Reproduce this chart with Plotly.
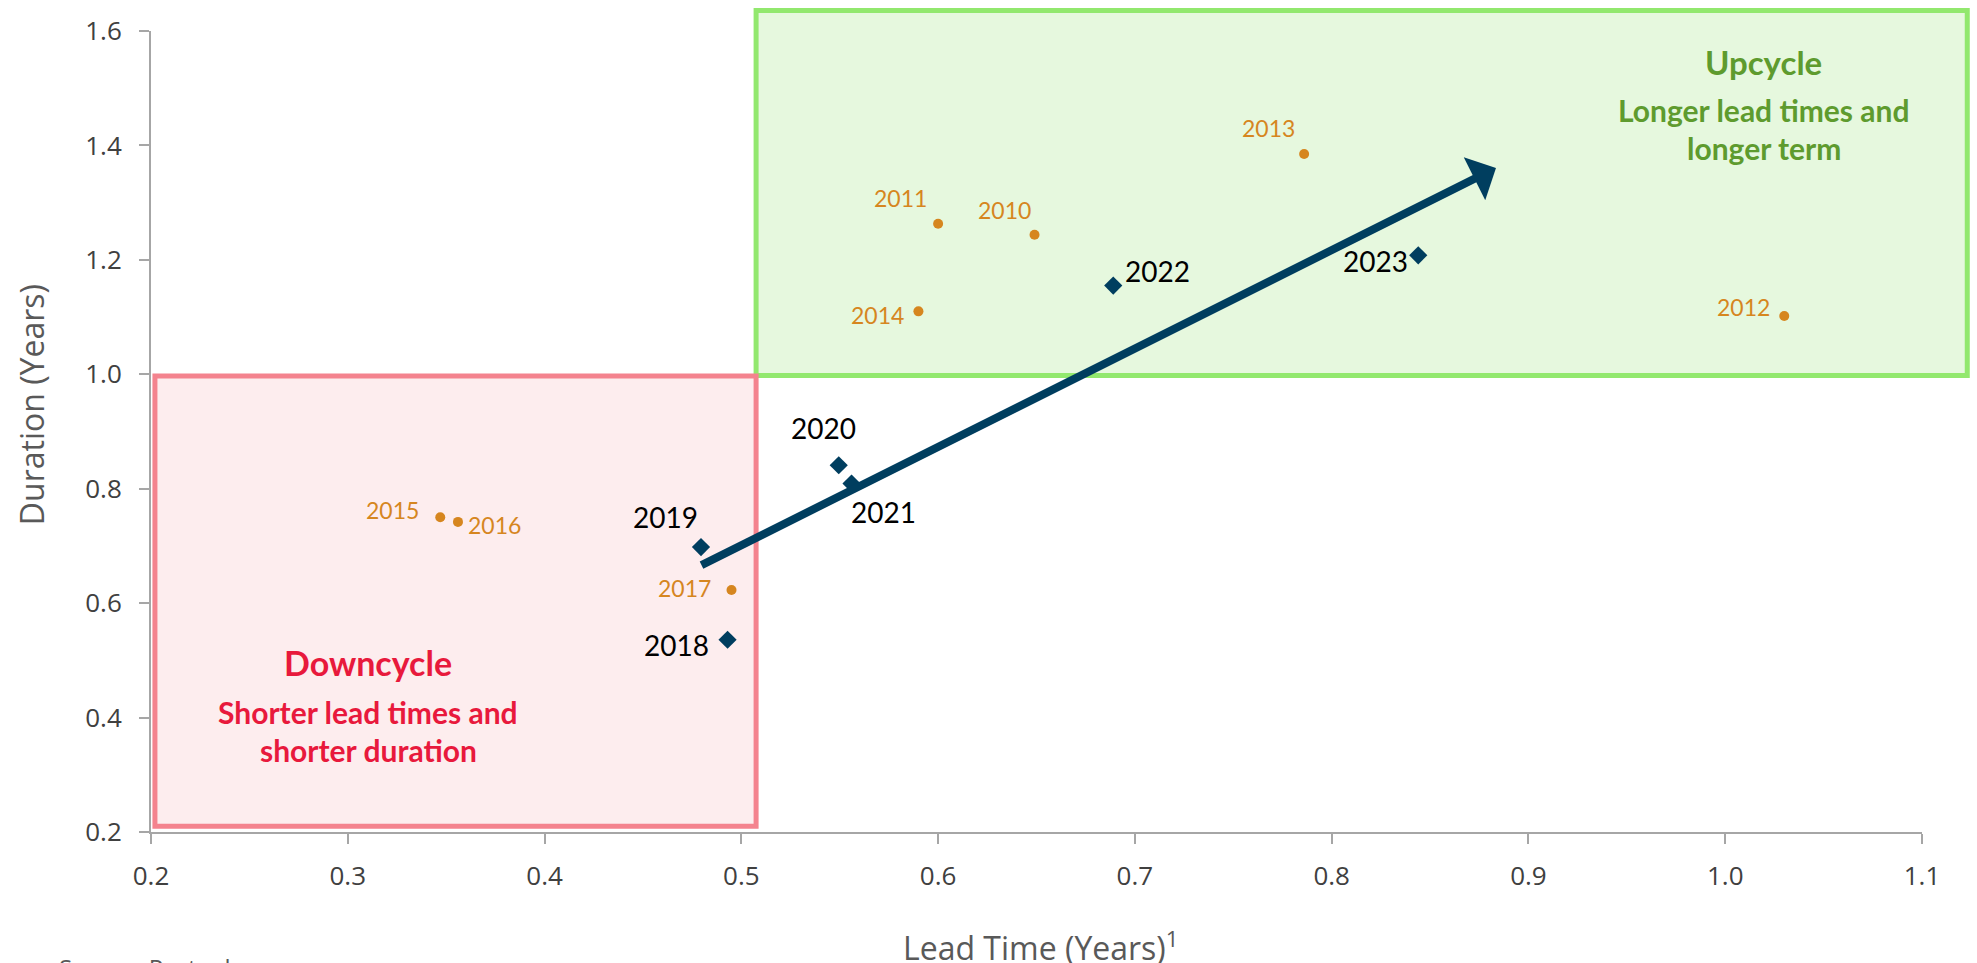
import plotly.graph_objects as go

# ---------------- data ----------------
hist_years = ["2010", "2011", "2012", "2013", "2014", "2015", "2016", "2017"]
hist_lead = [0.649, 0.600, 1.030, 0.786, 0.590, 0.347, 0.356, 0.495]
hist_dur = [1.244, 1.263, 1.102, 1.385, 1.110, 0.750, 0.742, 0.623]

recent_years = ["2018", "2019", "2020", "2021", "2022", "2023"]
recent_lead = [0.493, 0.4795, 0.5495, 0.556, 0.689, 0.844]
recent_dur = [0.536, 0.698, 0.841, 0.809, 1.155, 1.208]

x_tick_vals = [0.2, 0.3, 0.4, 0.5, 0.6, 0.7, 0.8, 0.9, 1.0, 1.1]
x_tick_text = ["0.2", "0.3", "0.4", "0.5", "0.6", "0.7", "0.8", "0.9", "1.0", "1.1"]
y_tick_vals = [0.2, 0.4, 0.6, 0.8, 1.0, 1.2, 1.4, 1.6]
y_tick_text = ["0.2", "0.4", "0.6", "0.8", "1.0", "1.2", "1.4", "1.6"]

# zones (lead time, duration)
down_zone_x = [0.202, 0.5075]
down_zone_y = [0.210, 0.997]
up_zone_x = [0.5075, 1.123]
up_zone_y = [0.998, 1.636]

# trend arrow (tail -> tip)
trend_x = [0.479, 0.8835]
trend_y = [0.665, 1.3606]

X_RANGE = [0.2, 1.1]
Y_RANGE = [0.2, 1.6]

# ---------------- styles ----------------
ORANGE = "#D6861F"
NAVY = "#003E5F"
RED_TXT = "#E8193C"
GREEN_TXT = "#5E9B2E"
AXIS_GREY = "#A6A6A6"
TICK_TXT = "#404040"
TITLE_TXT = "#595959"

# label offsets in pixels (dx right, dy down) for each year label
label_offsets = {
    "2010": (-30, -20), "2011": (-38, -21), "2012": (-41, -4), "2013": (-36, -21),
    "2014": (-41, 9), "2015": (-48, -2), "2016": (37, 8), "2017": (-47, 3),
    "2018": (-51, 10), "2019": (-35, -25), "2020": (-15, -32), "2021": (32, 33),
    "2022": (44, -10), "2023": (-43, 11),
}
TEXT_LIFT = 5  # px, compensates text box centre vs glyph centre


def paper_x(v):
    return (v - X_RANGE[0]) / (X_RANGE[1] - X_RANGE[0])


def paper_y(v):
    return (v - Y_RANGE[0]) / (Y_RANGE[1] - Y_RANGE[0])


fig = go.Figure()

fig.add_trace(go.Scatter(
    x=hist_lead, y=hist_dur, mode="markers",
    marker=dict(symbol="circle", size=10, color=ORANGE),
    hoverinfo="skip", showlegend=False,
))
fig.add_trace(go.Scatter(
    x=recent_lead, y=recent_dur, mode="markers",
    marker=dict(symbol="diamond", size=14, color=NAVY),
    hoverinfo="skip", showlegend=False,
))

shapes = [
    dict(type="rect", xref="paper", yref="paper", layer="below",
         x0=paper_x(up_zone_x[0]), x1=paper_x(up_zone_x[1]),
         y0=paper_y(up_zone_y[0]), y1=paper_y(up_zone_y[1]),
         fillcolor="#E6F8DE", line=dict(color="#92E86E", width=5)),
    dict(type="rect", xref="paper", yref="paper", layer="below",
         x0=paper_x(down_zone_x[0]), x1=paper_x(down_zone_x[1]),
         y0=paper_y(down_zone_y[0]), y1=paper_y(down_zone_y[1]),
         fillcolor="#FDEDEE", line=dict(color="#F4838E", width=5)),
]

annotations = []
for yr, lx, ly in zip(hist_years, hist_lead, hist_dur):
    dx, dy = label_offsets[yr]
    annotations.append(dict(x=lx, y=ly, xref="x", yref="y", text=yr, showarrow=False,
                            xanchor="center", yanchor="middle", xshift=dx,
                            yshift=-dy + TEXT_LIFT,
                            font=dict(family="Lato", size=23, color=ORANGE)))
for yr, lx, ly in zip(recent_years, recent_lead, recent_dur):
    dx, dy = label_offsets[yr]
    annotations.append(dict(x=lx, y=ly, xref="x", yref="y", text=yr, showarrow=False,
                            xanchor="center", yanchor="middle", xshift=dx,
                            yshift=-dy + TEXT_LIFT,
                            font=dict(family="Lato", size=28, color="#000000")))

# trend arrow
annotations.append(dict(
    x=trend_x[1], y=trend_y[1], ax=trend_x[0], ay=trend_y[0],
    xref="x", yref="y", axref="x", ayref="y", text="", showarrow=True,
    arrowhead=1, arrowsize=1.0, arrowwidth=8, arrowcolor=NAVY, standoff=0,
))

# zone texts: (text, x, y, font size, colour, extra pixel shift)
zone_texts = [
    ("Downcycle", 0.3103, 0.492, 34, RED_TXT, 2),
    ("Shorter lead times and", 0.3103, 0.408, 30, RED_TXT, 1),
    ("shorter duration", 0.3103, 0.342, 30, RED_TXT, 1),
    ("Upcycle", 1.0197, 1.531, 33, GREEN_TXT, 8),
    ("Longer lead times and", 1.0197, 1.453, 30, GREEN_TXT, 5),
    ("longer term", 1.0197, 1.388, 30, GREEN_TXT, 4),
]
for t, tx, ty, fs, col, sh in zone_texts:
    annotations.append(dict(x=tx, y=ty, xref="x", yref="y", text="<b>%s</b>" % t,
                            showarrow=False, xanchor="center", yanchor="middle",
                            yshift=sh,
                            font=dict(family="Lato", size=fs, color=col)))

# axis titles and source
annotations.append(dict(x=0.5025, y=-0.142, xref="paper", yref="paper",
                        text="Lead Time (Years)<sup>1</sup>", showarrow=False,
                        xanchor="center", yanchor="middle",
                        font=dict(family="Open Sans", size=32, color=TITLE_TXT)))
annotations.append(dict(x=-0.0678, y=0.534, xref="paper", yref="paper",
                        text="Duration (Years)", showarrow=False, textangle=-90,
                        xanchor="center", yanchor="middle",
                        font=dict(family="Open Sans", size=32, color=TITLE_TXT)))
annotations.append(dict(x=-0.053, y=-0.146, xref="paper", yref="paper",
                        text="Source: Pactual", showarrow=False,
                        xanchor="left", yanchor="top",
                        font=dict(family="Open Sans", size=24, color=TITLE_TXT)))

axis_common = dict(
    showline=True, linecolor=AXIS_GREY, linewidth=2,
    ticks="outside", ticklen=10, tickwidth=2, tickcolor=AXIS_GREY,
    showgrid=False, zeroline=False,
    tickfont=dict(family="Open Sans", size=26, color=TICK_TXT),
)

fig.update_layout(
    width=1977, height=963,
    margin=dict(l=151, r=55, t=25, b=131),
    paper_bgcolor="white", plot_bgcolor="white",
    xaxis=dict(range=X_RANGE, tickvals=x_tick_vals, ticktext=x_tick_text,
               ticklabelstandoff=10, **axis_common),
    yaxis=dict(range=Y_RANGE, tickvals=y_tick_vals, ticktext=y_tick_text,
               ticklabelstandoff=12, **axis_common),
    shapes=shapes, annotations=annotations,
    showlegend=False,
)

fig.write_html("out.html", config={"displayModeBar": False},
               post_script="document.body.style.margin='0px';document.body.style.overflow='hidden';")
